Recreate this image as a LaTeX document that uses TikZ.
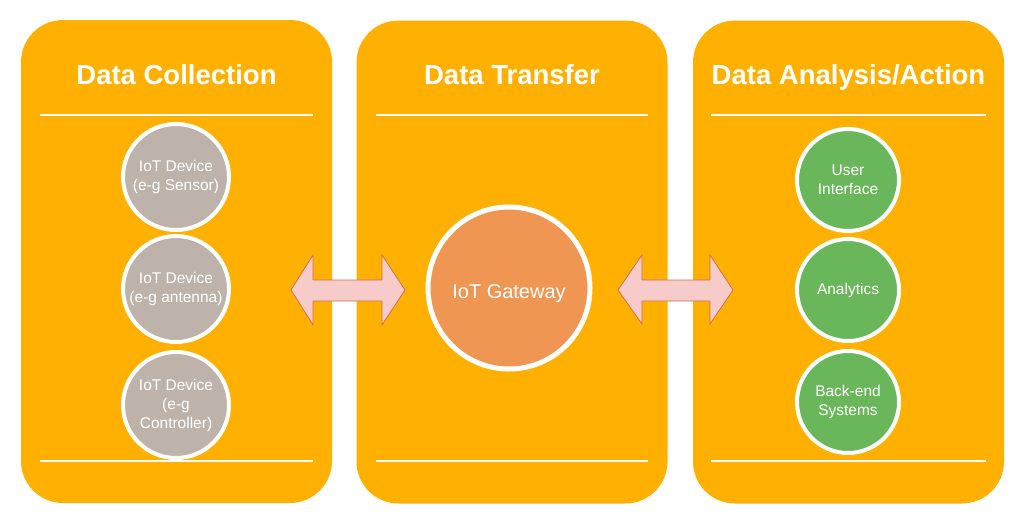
\documentclass[tikz,border=0pt]{standalone}
\usepackage{fontspec}
\setmainfont{Liberation Sans}
\definecolor{panelc}{HTML}{FFB000}
\definecolor{greyc}{HTML}{BDB3AB}
\definecolor{greenc}{HTML}{6AB75B}
\definecolor{gatec}{HTML}{EF9652}
\definecolor{arrowfill}{HTML}{F8CBCB}
\definecolor{arrowline}{HTML}{D0704A}
\tikzset{
  panel/.style={fill=panelc, rounded corners=42pt, minimum width=311pt, minimum height=483pt, inner sep=0pt},
  title/.style={text=white, anchor=base, font=\fontsize{27.5}{32}\selectfont\bfseries},
  rule/.style={draw=white, line width=2.5pt},
  dev/.style={circle, draw=white, line width=4pt, fill=greyc, minimum size=106pt, inner sep=0pt, align=center, text=white, font=\fontsize{15.5}{19}\selectfont},
  act/.style={circle, draw=white, line width=4pt, fill=greenc, minimum size=102pt, inner sep=0pt, align=center, text=white, font=\fontsize{15.5}{19}\selectfont},
  gate/.style={circle, draw=white, line width=5pt, fill=gatec, minimum size=162pt, inner sep=0pt},
  gatetext/.style={text=white, anchor=base, font=\fontsize{20}{24}\selectfont},
  blockarrow/.style={fill=arrowfill, draw=arrowline, line width=0.8pt, line join=miter}
}
\begin{document}
\begin{tikzpicture}[x=1pt,y=-1pt]
\useasboundingbox (0,0) rectangle (1024,525);
\fill[white] (0,0) rectangle (1024,525);
% panels
\node[panel] (p1) at (176.5,261.5) {};
\node[panel] (p2) at (512,262) {};
\node[panel] (p3) at (848.5,262) {};
% titles
\node[title] (t1) at (176.5,84) {Data Collection};
\node[title] (t2) at (512,84) {Data Transfer};
\node[title] (t3) at (848.5,84) {Data Analysis/Action};
% rules
\draw[rule] (40,115) -- (313,115);
\draw[rule] (40,461) -- (313,461);
\draw[rule] (376,115) -- (648,115);
\draw[rule] (376,461) -- (648,461);
\draw[rule] (711,115) -- (986,115);
\draw[rule] (711,461) -- (986,461);
% devices
\node[dev] (d1) at (176,177) {IoT Device\\(e-g Sensor)};
\node[dev] (d2) at (176,289) {IoT Device\\(e-g antenna)};
\node[dev] (d3) at (176,405) {IoT Device\\(e-g\\Controller)};
% gateway
\node[gate] (g) at (509,288) {};
\node[gatetext] (gt) at (509,298) {IoT Gateway};
% actions
\node[act] (a1) at (848,180) {User\\Interface};
\node[act] (a2) at (848,290) {Analytics};
\node[act] (a3) at (848,402) {Back-end\\Systems};
% block arrows
\filldraw[blockarrow] (291,290) -- (313,255) -- (313,280) -- (382,280) -- (382,255) -- (405,290) -- (382,325) -- (382,301) -- (313,301) -- (313,325) -- cycle;
\filldraw[blockarrow] (618,290) -- (642,255) -- (642,280) -- (710,280) -- (710,255) -- (733,290) -- (710,324) -- (710,301) -- (642,301) -- (642,324) -- cycle;
\end{tikzpicture}
\end{document}
